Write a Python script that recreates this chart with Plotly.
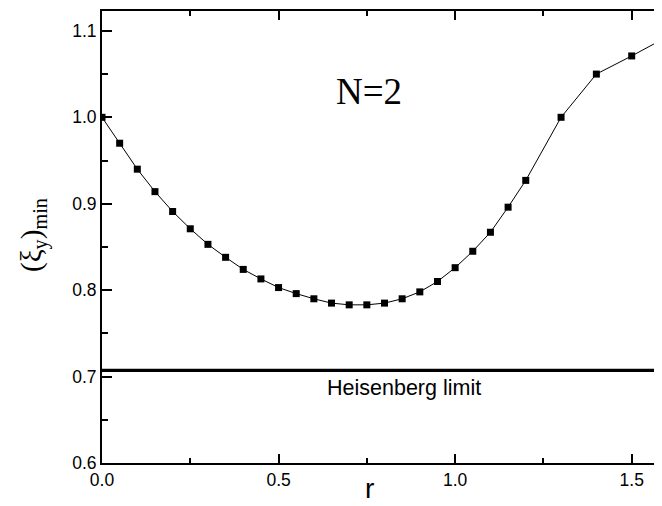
import plotly.graph_objects as go

r_values = [0.00, 0.05, 0.10, 0.15, 0.20, 0.25, 0.30, 0.35, 0.40, 0.45, 0.50, 0.55,
            0.60, 0.65, 0.70, 0.75, 0.80, 0.85, 0.90, 0.95, 1.00, 1.05, 1.10, 1.15,
            1.20, 1.30, 1.40, 1.50, 1.60]
xi_min = [1.000, 0.970, 0.940, 0.914, 0.891, 0.871, 0.853, 0.838, 0.824, 0.813, 0.803, 0.796,
          0.790, 0.785, 0.783, 0.783, 0.785, 0.790, 0.798, 0.810, 0.826, 0.845, 0.867, 0.896,
          0.927, 1.000, 1.050, 1.071, 1.093]
heisenberg_r = [0.0, 1.6]
heisenberg_limit = [0.7071, 0.7071]
x_ticks = [0.0, 0.5, 1.0, 1.5]
x_labels = ["0.0", "0.5", "1.0", "1.5"]
y_ticks = [0.6, 0.7, 0.8, 0.9, 1.0, 1.1]
y_labels = ["0.6", "0.7", "0.8", "0.9", "1.0", "1.1"]

fig = go.Figure()
fig.add_trace(go.Scatter(x=heisenberg_r, y=heisenberg_limit, mode="lines",
                         line=dict(color="black", width=3.3), showlegend=False))
fig.add_trace(go.Scatter(x=r_values, y=xi_min, mode="lines+markers",
                         line=dict(color="black", width=1),
                         marker=dict(symbol="square", size=7, color="black"),
                         showlegend=False))

fig.add_annotation(x=0.757, y=1.030, text="N=2", showarrow=False,
                   font=dict(family="Liberation Serif", size=37, color="black"))
fig.add_annotation(x=0.856, y=0.687, text="Heisenberg limit", showarrow=False,
                   font=dict(family="Liberation Sans", size=21.5, color="black"))
fig.add_annotation(x=0.758, xref="x", yref="paper", y=0, yanchor="middle", yshift=-25,
                   text="r", showarrow=False,
                   font=dict(family="Liberation Sans", size=28, color="black"))
fig.add_annotation(xref="paper", yref="paper", x=0, y=0.5, xanchor="center", yanchor="middle",
                   xshift=-69, yshift=2, textangle=-90, showarrow=False,
                   text="(ξ<sub>y</sub>)<sub>min</sub>",
                   font=dict(family="Liberation Serif", size=29, color="black"))

axis_common = dict(showgrid=False, zeroline=False, showline=True, linecolor="black",
                   linewidth=2, mirror="allticks", ticks="inside", tickcolor="black",
                   tickwidth=1.5, tickfont=dict(family="Liberation Sans", size=17.5, color="black"))

fig.update_xaxes(range=[0, 1.6], tickvals=x_ticks, ticktext=x_labels,
                 ticklen=9, minor=dict(ticks="inside", dtick=0.25, ticklen=5, tickcolor="black", tickwidth=1.5),
                 **axis_common)
fig.update_yaxes(range=[0.6, 1.123], tickvals=y_ticks, ticktext=y_labels,
                 ticklen=10, minor=dict(ticks="inside", dtick=0.05, ticklen=6, tickcolor="black", tickwidth=1.5),
                 **axis_common)

fig.update_layout(width=662, height=498, margin=dict(l=94, r=2, t=1, b=43),
                  plot_bgcolor="white", paper_bgcolor="white")

fig.write_html("out.html")
